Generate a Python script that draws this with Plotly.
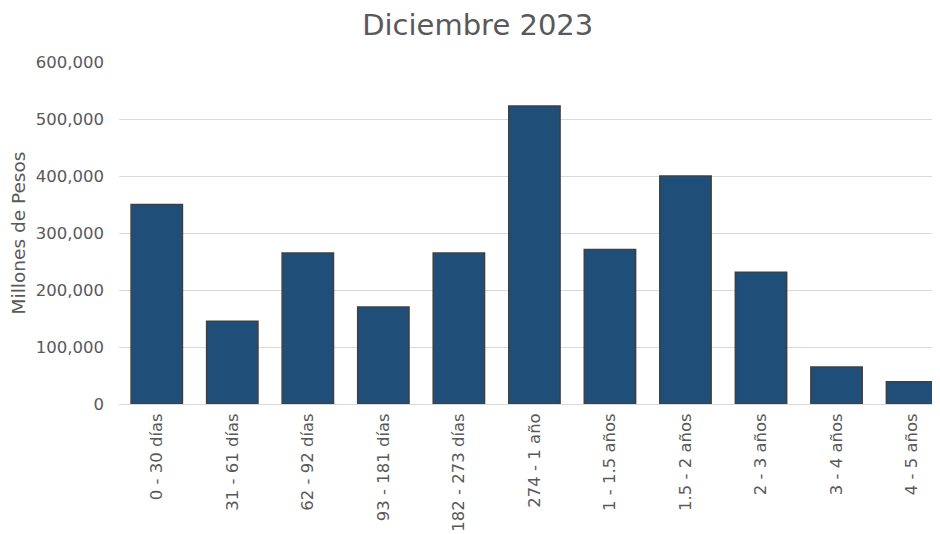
import plotly.graph_objects as go

categories = ["0 - 30 días", "31 - 61 días", "62 - 92 días", "93 - 181 días",
              "182 - 273 días", "274 - 1 año", "1 - 1.5 años", "1.5 - 2 años",
              "2 - 3 años", "3 - 4 años", "4 - 5 años"]
values = [350000, 145000, 265000, 170000, 265000, 523000, 271000, 400000,
          231000, 65000, 39000]
y_ticks = [0, 100000, 200000, 300000, 400000, 500000, 600000]

FONT = "Verdana, DejaVu Sans, sans-serif"
TXT = "#595959"

fig = go.Figure(go.Bar(
    x=list(range(len(categories))), y=values,
    marker=dict(color="#1F4E79", line=dict(color="#404040", width=1.5)),
    width=0.68,
))

# page body has an 8px default margin, so the figure is sized to the remaining area
fig.update_layout(
    width=932, height=526,
    margin=dict(l=111, r=0, t=54, b=130, autoexpand=False),
    paper_bgcolor="white", plot_bgcolor="white",
    title=dict(text="Diciembre 2023", x=0.504, xanchor="center", y=0.9686, yanchor="middle",
               font=dict(family=FONT, size=29, color=TXT)),
    font=dict(family=FONT, color=TXT),
    showlegend=False,
)
fig.update_xaxes(
    tickmode="array", tickvals=list(range(len(categories))), ticktext=categories,
    tickangle=-90, range=[-0.5, 10.37], automargin=False,
    tickfont=dict(family=FONT, size=16.5, color=TXT),
    showgrid=False, zeroline=False, showline=False,
    ticks="", ticklabelstandoff=5,
)
fig.update_yaxes(
    range=[0, 600000], tickvals=y_ticks, tickformat=",", automargin=False,
    tickfont=dict(family=FONT, size=16.5, color=TXT),
    showgrid=True, gridcolor="#D9D9D9", gridwidth=1,
    zeroline=True, zerolinecolor="#D9D9D9", zerolinewidth=1,
    showline=False, ticks="", ticklabelstandoff=14,
    title=dict(text="Millones de Pesos", standoff=6,
               font=dict(family=FONT, size=18.5, color=TXT)),
)

fig.write_html("out.html")
